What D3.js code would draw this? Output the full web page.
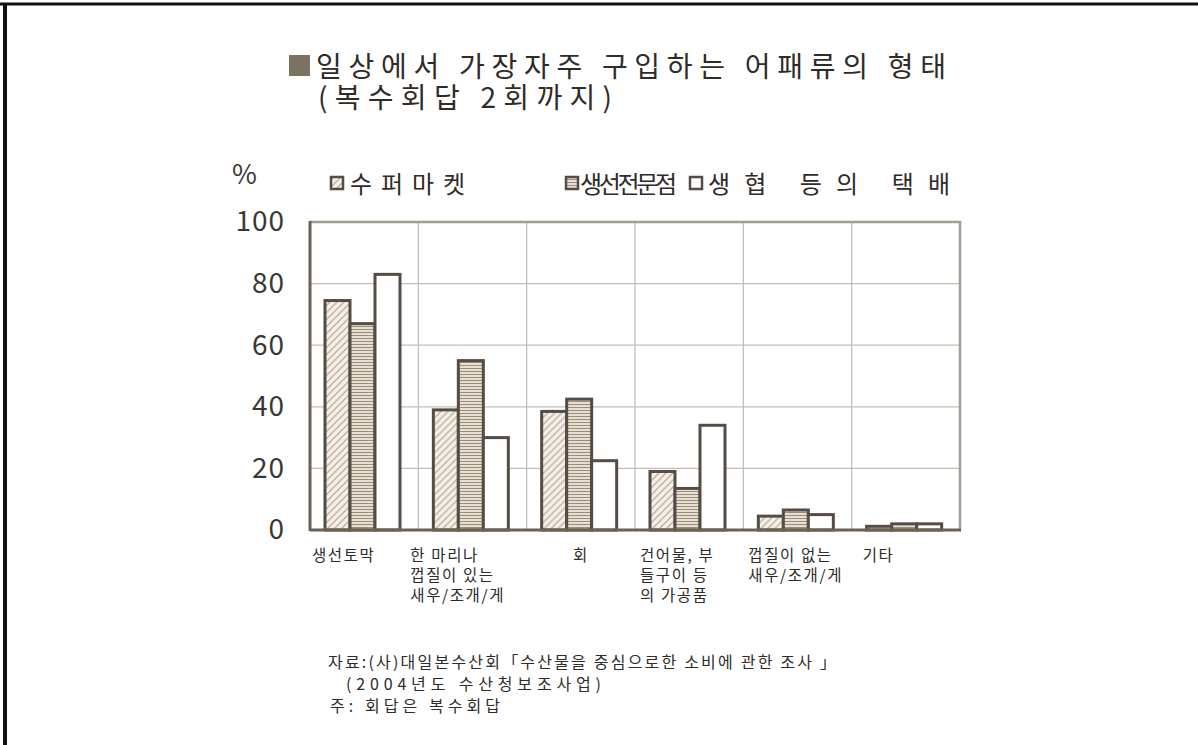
<!DOCTYPE html>
<html>
<head>
<meta charset="utf-8">
<script src="https://cdn.jsdelivr.net/npm/d3@7"></script>
<style>
  body { margin: 0; background: #fff; }
  svg { display: block; }
  text { font-family: "Noto Sans CJK KR", "Noto Sans", sans-serif; fill: #2e2b28; }
</style>
</head>
<body>
<svg id="chart" width="1198" height="745"></svg>
<script>
// data
var categories = [
    ["생선토막"],
    ["한 마리나", "껍질이 있는", "새우/조개/게"],
    ["회"],
    ["건어물, 부", "들구이 등", "의 가공품"],
    ["껍질이 없는", "새우/조개/게"],
    ["기타"]
];
var seriesNames = ["수퍼마켓", "생선전문점", "생협 등의 택배"];
var supermarket = [74.5, 39, 38.5, 19, 4.5, 1.2];
var fishShop    = [67, 55, 42.5, 13.5, 6.5, 2];
var coopDelivery = [83, 30, 22.5, 34, 5, 2];
var yTicks = [0, 20, 40, 60, 80, 100];
var titleLines = ["일상에서 가장자주 구입하는 어패류의 형태", "(복수회답 2회까지)"];
var notes = [
    "자료:(사)대일본수산회「수산물을 중심으로한 소비에 관한 조사 」",
    "(2004년도 수산청보조사업)",
    "주: 회답은 복수회답"
];

var svg = d3.select("#chart");
var fills = ["url(#hatch)", "url(#stripe)", "#ffffff"];
var outline = "#554d45";

// patterns
var defs = svg.append("defs");
var hatch = defs.append("pattern")
    .attr("id", "hatch")
    .attr("patternUnits", "userSpaceOnUse")
    .attr("width", 7).attr("height", 7);
hatch.append("rect").attr("width", 7).attr("height", 7).attr("fill", "#f4f0e8");
hatch.append("path")
    .attr("d", "M-1,8 L8,-1 M-1,1 L1,-1 M6,8 L8,6")
    .attr("stroke", "#bcb09d").attr("stroke-width", 1.3);

var stripe = defs.append("pattern")
    .attr("id", "stripe")
    .attr("patternUnits", "userSpaceOnUse")
    .attr("width", 4).attr("height", 3);
stripe.append("rect").attr("width", 4).attr("height", 3).attr("fill", "#e6dfd2");
stripe.append("rect").attr("y", 2).attr("width", 4).attr("height", 1).attr("fill", "#9a8e7c");

// frame of the whole picture
svg.append("line").attr("x1", 0).attr("x2", 1198).attr("y1", 4).attr("y2", 4)
    .attr("stroke", "#111").attr("stroke-width", 3);
svg.append("line").attr("x1", 5).attr("x2", 5).attr("y1", 3).attr("y2", 745)
    .attr("stroke", "#111").attr("stroke-width", 4);

// title
svg.append("rect")
    .attr("x", 289).attr("y", 55).attr("width", 21).attr("height", 21)
    .attr("fill", "#7b7261");
svg.append("text")
    .attr("x", 316).attr("y", 77)
    .attr("font-size", 28)
    .attr("textLength", 630).attr("lengthAdjust", "spacing")
    .text(titleLines[0]);
svg.append("text")
    .attr("x", 318).attr("y", 108)
    .attr("font-size", 28)
    .attr("textLength", 294).attr("lengthAdjust", "spacing")
    .text(titleLines[1]);

// scales
var margin = {left: 310, right: 960, top: 222, bottom: 530};
var x0 = d3.scaleBand()
    .domain(d3.range(categories.length))
    .range([margin.left, margin.right]);
var x1 = d3.scaleBand()
    .domain(d3.range(seriesNames.length))
    .range([15, 90]);
var y = d3.scaleLinear().domain([0, 100]).range([margin.bottom, margin.top]);

// grid
var plot = svg.append("g");
plot.selectAll(".hgrid")
    .data(yTicks.slice(1, -1))
    .enter().append("line")
    .attr("x1", margin.left).attr("x2", margin.right)
    .attr("y1", function(d) { return y(d); })
    .attr("y2", function(d) { return y(d); })
    .attr("stroke", "#c4beb4").attr("stroke-width", 1.3);

plot.selectAll(".vgrid")
    .data(d3.range(1, categories.length))
    .enter().append("line")
    .attr("x1", function(d) { return x0(d); })
    .attr("x2", function(d) { return x0(d); })
    .attr("y1", margin.top).attr("y2", margin.bottom)
    .attr("stroke", "#c4beb4").attr("stroke-width", 1.3);

// top and right border
plot.append("path")
    .attr("d", "M" + margin.left + "," + margin.top + "H" + margin.right + "V" + margin.bottom)
    .attr("fill", "none").attr("stroke", "#a59d90").attr("stroke-width", 2.5);

// y axis labels
var yAxis = d3.axisLeft(y).tickValues(yTicks).tickSize(0).tickPadding(25);
var gy = svg.append("g")
    .attr("transform", "translate(" + margin.left + ",0)")
    .call(yAxis);
gy.select(".domain").remove();
gy.selectAll("text")
    .attr("font-family", "'Liberation Sans', Arial, sans-serif")
    .attr("font-size", 28)
    .attr("letter-spacing", 1)
    .style("fill", "#3a3835");

svg.append("text")
    .attr("x", 232).attr("y", 184)
    .attr("font-family", "'Liberation Sans', Arial, sans-serif")
    .attr("font-size", 27)
    .style("fill", "#3a3835")
    .text("%");

// bars
var values = [supermarket, fishShop, coopDelivery];
var groups = svg.selectAll(".grp")
    .data(categories)
    .enter().append("g")
    .attr("transform", function(d, i) { return "translate(" + x0(i) + ",0)"; });

groups.selectAll("rect")
    .data(function(d, i) { return values.map(function(s, k) { return {k: k, v: s[i]}; }); })
    .enter().append("rect")
    .attr("x", function(d) { return x1(d.k); })
    .attr("width", x1.bandwidth())
    .attr("y", function(d) { return y(d.v); })
    .attr("height", function(d) { return y(0) - y(d.v); })
    .attr("fill", function(d) { return fills[d.k]; })
    .attr("stroke", outline).attr("stroke-width", 3);

// left and bottom axis lines
svg.append("line")
    .attr("x1", margin.left).attr("x2", margin.left)
    .attr("y1", margin.top - 1).attr("y2", margin.bottom + 1)
    .attr("stroke", "#6a6157").attr("stroke-width", 3);
svg.append("line")
    .attr("x1", margin.left).attr("x2", margin.right + 1)
    .attr("y1", margin.bottom).attr("y2", margin.bottom)
    .attr("stroke", "#6a6157").attr("stroke-width", 3);

// category labels (the source sets them a little unevenly)
var labelDx = [2, -8, 0, 5, 5, 11];
groups.each(function(lines, i) {
    var g = d3.select(this);
    var single = lines.length === 1 && lines[0].length === 1;
    g.selectAll("text")
        .data(lines)
        .enter().append("text")
        .attr("x", single ? x0.bandwidth() / 2 : labelDx[i])
        .attr("y", function(d, j) { return 561 + j * 20; })
        .attr("text-anchor", single ? "middle" : "start")
        .attr("font-size", 15.5)
        .attr("letter-spacing", 1.6)
        .text(function(d) { return d; });
});

// legend
var legendX = [331, 566, 690];
var legendText = [{x: 350, w: 115}, {x: 580, w: 97}, {x: 708, w: 242}];
var legend = svg.selectAll(".leg")
    .data(seriesNames)
    .enter().append("g");
legend.append("rect")
    .attr("x", function(d, i) { return legendX[i]; })
    .attr("y", 177).attr("width", 12).attr("height", 12)
    .attr("fill", function(d, i) { return fills[i]; })
    .attr("stroke", outline).attr("stroke-width", 2.5);
legend.append("text")
    .attr("x", function(d, i) { return legendText[i].x; })
    .attr("y", 193)
    .attr("font-size", 24)
    .attr("textLength", function(d, i) { return legendText[i].w; })
    .attr("lengthAdjust", "spacing")
    .text(function(d) { return d; });

// source notes
var noteX = [328, 346, 330];
var noteW = [508, 255, 170];
svg.selectAll(".note")
    .data(notes)
    .enter().append("text")
    .attr("x", function(d, i) { return noteX[i]; })
    .attr("y", function(d, i) { return 668 + i * 22; })
    .attr("font-size", 16)
    .attr("textLength", function(d, i) { return noteW[i]; })
    .attr("lengthAdjust", "spacing")
    .text(function(d) { return d; });
</script>
</body>
</html>
